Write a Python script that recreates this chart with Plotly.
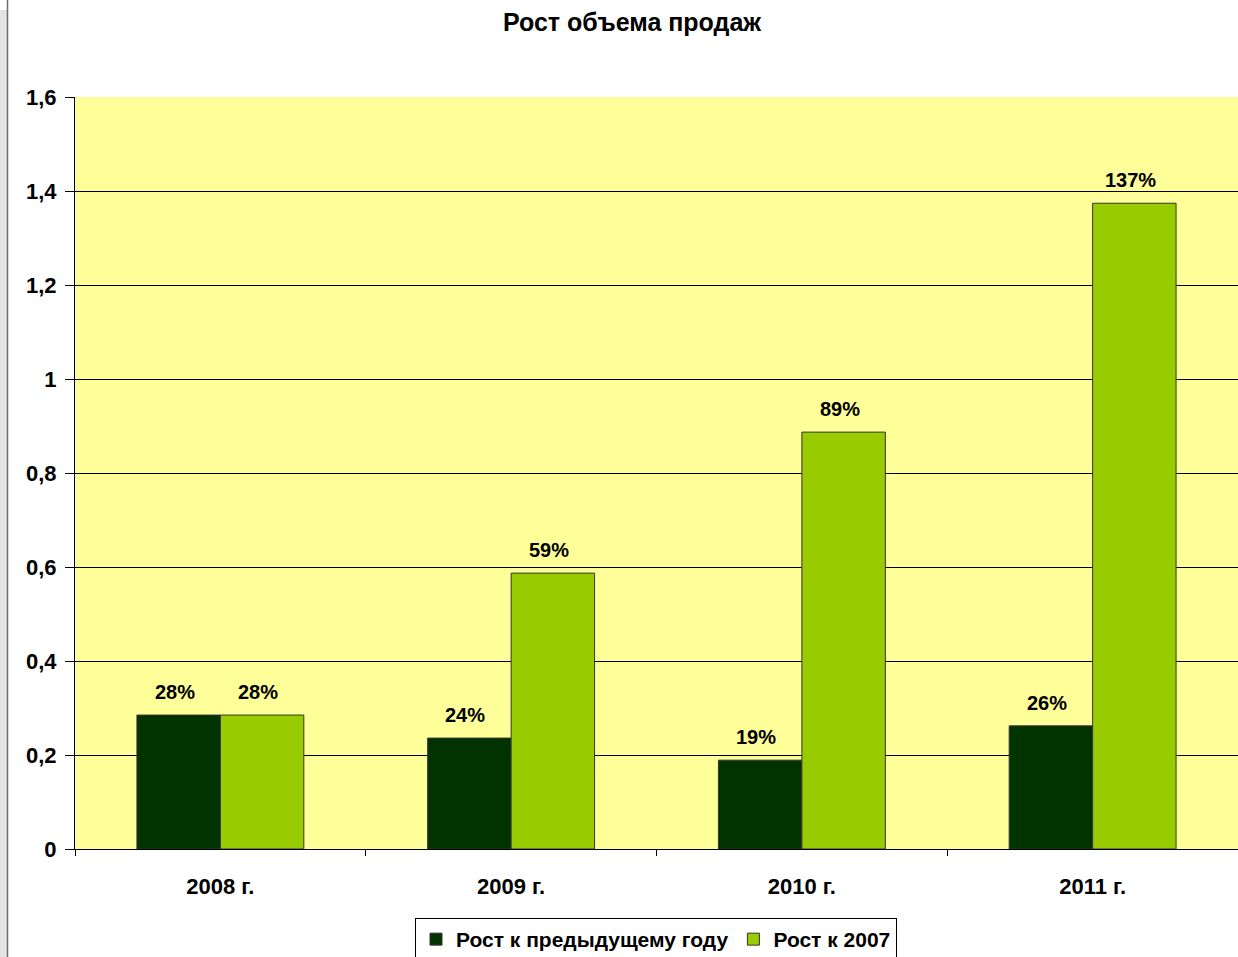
import plotly.graph_objects as go

categories = ["2008 г.", "2009 г.", "2010 г.", "2011 г."]
series_names = ["Рост к предыдущему году", "Рост к 2007"]
growth_prev = [0.285, 0.236, 0.189, 0.262]
growth_2007 = [0.285, 0.587, 0.887, 1.374]
labels_prev = ["28%", "24%", "19%", "26%"]
labels_2007 = ["28%", "59%", "89%", "137%"]
y_tickvals = [0, 0.2, 0.4, 0.6, 0.8, 1.0, 1.2, 1.4, 1.6]
y_ticktext = ["0", "0,2", "0,4", "0,6", "0,8", "1", "1,2", "1,4", "1,6"]

W, H = 1238, 957
ML, MR, MT, MB = 75, 0, 97, 108
PW, PH = W - ML - MR, H - MT - MB
font = "Liberation Sans, Arial, sans-serif"
BARGAP = 0.426
half_bar = PW / len(categories) * (1 - BARGAP) / 4

fig = go.Figure()
series = [(growth_prev, labels_prev, series_names[0], "#003300", -1),
          (growth_2007, labels_2007, series_names[1], "#99CC00", 1)]
for vals, labs, name, col, side in series:
    fig.add_trace(go.Bar(
        x=categories, y=vals, name="<b>%s</b>" % name,
        marker=dict(color=col, line=dict(color="#333333", width=1)),
        hoverinfo="x+y",
    ))
    for c, v, t in zip(categories, vals, labs):
        fig.add_annotation(x=c, y=v, text="<b>%s</b>" % t, showarrow=False,
                           xanchor="center", yanchor="bottom",
                           xshift=side * half_bar - 4, yshift=10,
                           font=dict(family=font, size=20, color="black"))

fig.update_layout(
    width=W, height=H,
    margin=dict(l=ML, r=MR, t=MT, b=MB, autoexpand=False),
    paper_bgcolor="white", plot_bgcolor="#FFFF99",
    barmode="group", bargap=BARGAP, bargroupgap=0,
    font=dict(family=font, color="black"),
    title=dict(text="<b>Рост объема продаж</b>", x=(632 - ML) / PW, xref="paper",
               xanchor="center", y=1 - 22 / H, yanchor="middle",
               font=dict(family=font, size=25, color="black")),
    legend=dict(orientation="h", x=(656 - ML) / PW, xanchor="center", xref="paper",
                y=-(918 - 849) / PH, yanchor="top", yref="paper",
                bgcolor="white", bordercolor="black", borderwidth=1,
                font=dict(family=font, size=21, color="black"),
                traceorder="normal", itemwidth=30),
    xaxis=dict(showgrid=False, tickson="boundaries", ticks="outside", ticklen=6,
               tickcolor="black", showline=True, linecolor="black", linewidth=1,
               tickvals=categories, ticktext=["<b>%s</b>" % c for c in categories],
               tickfont=dict(family=font, size=22, color="black"),
               ticklabelstandoff=18),
    yaxis=dict(range=[0, 1.6], tickvals=y_tickvals,
               ticktext=["<b>%s</b>" % t for t in y_ticktext],
               ticks="outside", ticklen=9, tickcolor="black",
               showline=True, linecolor="black", linewidth=1,
               gridcolor="black", gridwidth=1, zeroline=False,
               tickfont=dict(family=font, size=22, color="black"),
               ticklabelstandoff=4),
)

# left gray window border
fig.add_shape(type="rect", xref="paper", yref="paper",
              x0=-ML / PW - 0.01, x1=-(ML - 7) / PW,
              y0=-MB / PH - 0.01, y1=1 + (MT - 10) / PH,
              fillcolor="#E4E4E4", line=dict(width=0))
fig.add_shape(type="line", xref="paper", yref="paper",
              x0=-(ML - 7.5) / PW, x1=-(ML - 7.5) / PW,
              y0=-MB / PH - 0.01, y1=1 + MT / PH + 0.01,
              line=dict(color="#6E6E6E", width=1.5))

fig.write_html("out.html", config={"displayModeBar": False},
               post_script="document.body.style.margin='0';document.body.style.overflow='hidden';")
